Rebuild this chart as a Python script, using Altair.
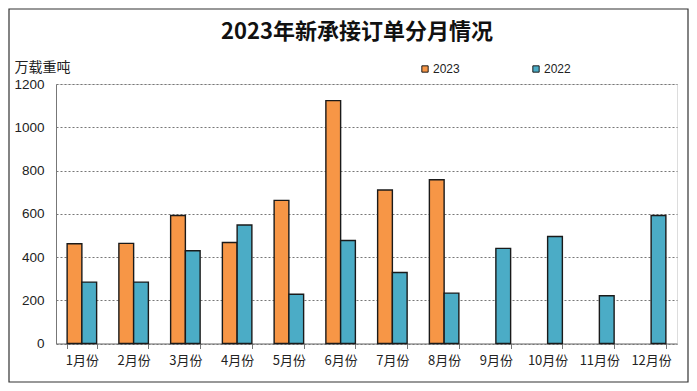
import altair as alt
import pandas as pd

months = ["1月份", "2月份", "3月份", "4月份", "5月份", "6月份",
          "7月份", "8月份", "9月份", "10月份", "11月份", "12月份"]
values_2023 = [461, 463, 592, 467, 662, 1123, 710, 757, None, None, None, None]
values_2022 = [284, 284, 429, 548, 228, 476, 328, 233, 440, 495, 221, 592]
series = ["2023", "2022"]
colors = ["#F79646", "#4BACC6"]
y_ticks = [0, 200, 400, 600, 800, 1000, 1200]
title_text = "2023年新承接订单分月情况"

rows = []
for m, a, b in zip(months, values_2023, values_2022):
    if a is not None:
        rows.append({"月份": m, "年份": "2023", "值": a})
    if b is not None:
        rows.append({"月份": m, "年份": "2022", "值": b})
df = pd.DataFrame(rows)

W, H = 621, 259.5
PL, PT, PR, PB = 48, 76, 12, 39.5

bars = alt.Chart(df).mark_bar(stroke="#1a1a1a", strokeWidth=1.4).encode(
    x=alt.X("月份:N", sort=months,
            scale=alt.Scale(paddingInner=0.43, paddingOuter=0.215),
            axis=alt.Axis(title=None, labelAngle=0, labelFont="Noto Sans CJK SC",
                          labelFontSize=13, labelColor="#222", labelPadding=6,
                          tickBand="extent", ticks=True, tickSize=5, tickColor="#777",
                          domainColor="#777", grid=False)),
    xOffset=alt.XOffset("年份:N", sort=series, scale=alt.Scale(domain=series, paddingInner=0, paddingOuter=0)),
    y=alt.Y("值:Q", scale=alt.Scale(domain=[0, 1200], nice=False),
            axis=alt.Axis(values=y_ticks, format="d", title="万载重吨", titleAngle=0,
                          titleX=-42, titleY=-13,
                          titleAlign="left", titleBaseline="alphabetic",
                          titleFont="Noto Sans CJK SC", titleFontSize=14, titleFontWeight="normal",
                          titleColor="#222",
                          labelFont="Liberation Sans", labelFontSize=13.5, labelColor="#222",
                          labelPadding=12, ticks=False, domainColor="#777",
                          grid=True, gridColor="#777", gridDash=[2, 2], gridWidth=1)),
    color=alt.Color("年份:N", sort=series,
                    scale=alt.Scale(domain=series, range=colors),
                    legend=alt.Legend(title=None, orient="none", legendX=363, legendY=-21,
                                      direction="horizontal", columns=2, columnPadding=70,
                                      symbolType="square", symbolSize=40,
                                      symbolStrokeColor="#1a1a1a", symbolStrokeWidth=1,
                                      labelFont="Liberation Sans", labelFontSize=12,
                                      labelColor="#222", labelOffset=2)),
)

title = alt.Chart(pd.DataFrame({"t": [title_text]})).mark_text(
    font="Noto Sans CJK SC", fontSize=22, fontWeight="bold", color="#111",
    align="center", baseline="middle"
).encode(text="t:N", x=alt.value(301), y=alt.value(-52))

frame = alt.Chart(pd.DataFrame({"a": [0]})).mark_rect(
    fill=None, stroke="#333", strokeWidth=1.2
).encode(
    x=alt.value(-PL + 1), x2=alt.value(W + PR - 1),
    y=alt.value(-PT + 1), y2=alt.value(H + PB - 1),
)

chart = alt.layer(bars, title, frame).properties(
    width=W, height=H,
    autosize=alt.AutoSizeParams(type="none"),
    padding={"left": PL, "top": PT, "right": PR, "bottom": PB},
).configure_view(stroke=None).configure(background="white")

chart.save("out.html", embed_options={"renderer": "svg", "actions": False})
